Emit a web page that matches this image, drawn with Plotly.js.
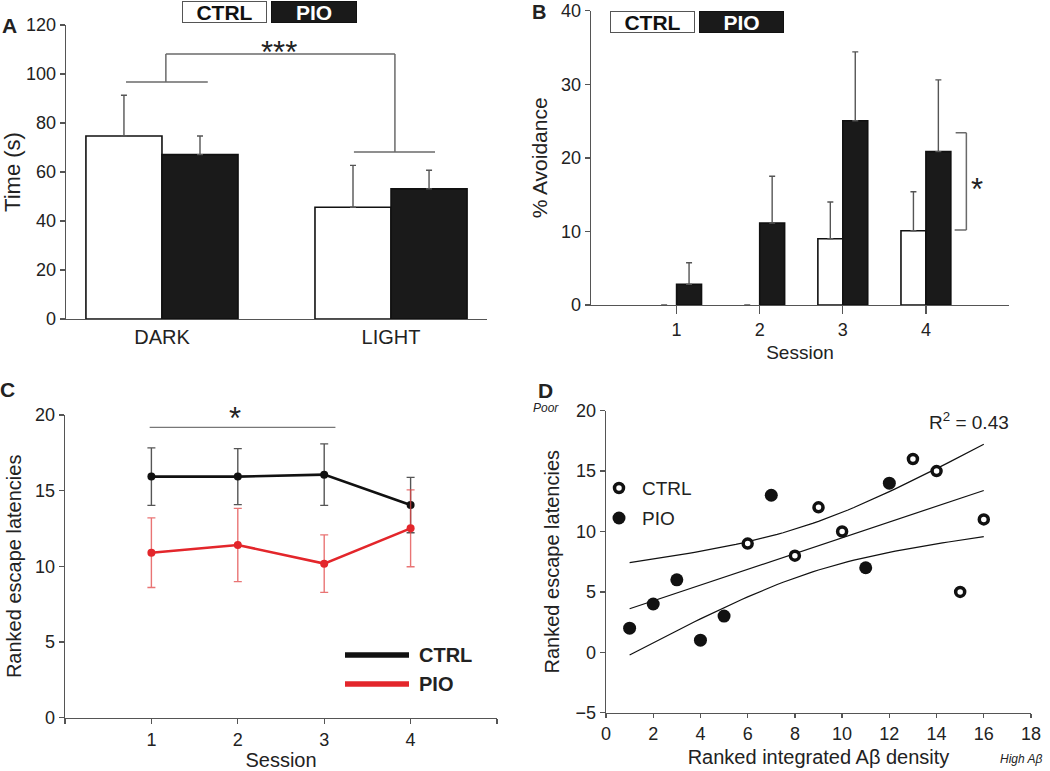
<!DOCTYPE html>
<html><head><meta charset="utf-8">
<script src="https://cdn.plot.ly/plotly-3.0.1.min.js"></script>
<style>html,body{margin:0;padding:0;background:#fff}#chart{width:1050px;height:771px}</style>
</head><body><div id="chart"></div>
<script>
// ---------- Panel A: time in dark / light ----------
const aCategories = ['DARK', 'LIGHT'];
const aCtrl = [74.7, 45.6];
const aCtrlErr = [16.6, 17.1];
const aPio = [67.1, 53.1];
const aPioErr = [7.6, 7.6];
const aYTicks = [0, 20, 40, 60, 80, 100, 120];

// ---------- Panel B: % avoidance ----------
const bSessions = [1, 2, 3, 4];
const bCtrl = [0, 0, 9.0, 10.1];
const bCtrlErr = [NaN, NaN, 5.0, 5.3];
const bPio = [2.8, 11.15, 25.05, 20.85];
const bPioErr = [2.95, 6.35, 9.35, 9.75];
const bYTicks = [0, 10, 20, 30, 40];

// ---------- Panel C: ranked escape latencies per session ----------
const cSessions = [1, 2, 3, 4];
const cCtrl = [15.93, 15.93, 16.06, 14.05];
const cCtrlErr = [1.9, 1.85, 2.03, 1.83];
const cPio = [10.9, 11.41, 10.18, 12.51];
const cPioErr = [2.3, 2.42, 1.9, 2.54];
const cYTicks = [0, 5, 10, 15, 20];

// ---------- Panel D: ranked latencies vs ranked Abeta density ----------
const dCtrlX = [6, 8, 9, 10, 13, 14, 15, 16];
const dCtrlY = [9, 8, 12, 10, 16, 15, 5, 11];
const dPioX = [1, 2, 3, 4, 5, 7, 11, 12];
const dPioY = [2, 4, 6, 1, 3, 13, 7, 14];
const dXTicks = [0, 2, 4, 6, 8, 10, 12, 14, 16, 18];
const dYTicks = [-5, 0, 5, 10, 15, 20];

// ---------- linear fit with 95% confidence band (from the points) ----------
const allX = dCtrlX.concat(dPioX), allY = dCtrlY.concat(dPioY);
const n = allX.length;
const mx = allX.reduce((a, b) => a + b, 0) / n;
const my = allY.reduce((a, b) => a + b, 0) / n;
let sxx = 0, sxy = 0, syy = 0;
for (let i = 0; i < n; i++) { sxx += (allX[i]-mx)**2; sxy += (allX[i]-mx)*(allY[i]-my); syy += (allY[i]-my)**2; }
const slope = sxy / sxx, icpt = my - slope * mx;
const sRes = Math.sqrt((syy - sxy * sxy / sxx) / (n - 2));
const tCrit = 2.145;
const xMin = Math.min(...allX), xMax = Math.max(...allX);
const fitX = [], fitY = [], upY = [], loY = [];
for (let x = xMin; x <= xMax + 1e-9; x += 0.25) {
  const yh = icpt + slope * x;
  const h = tCrit * sRes * Math.sqrt(1 / n + (x - mx) ** 2 / sxx);
  fitX.push(x); fitY.push(yh); upY.push(yh + h); loY.push(yh - h);
}

// ---------- helpers / styles ----------
const W = 1050, H = 771;
const P = x => x / W, Q = y => 1 - y / H;
const FONT = 'Liberation Sans, Arial, Helvetica, sans-serif';
const AX = '#555';
const TXT = '#222';
const RED = '#e3262b';
const TICKSIZE = 18;

function yAxis(domain, range, ticks, title, tsize, standoff, anchor) {
  return {
    domain: domain, range: range, tickvals: ticks, anchor: anchor,
    showline: true, linecolor: AX, linewidth: 1.3, ticks: 'outside', ticklen: 5,
    tickcolor: AX, tickwidth: 1.3, showgrid: false, zeroline: false,
    tickfont: {family: FONT, size: TICKSIZE, color: TXT},
    title: {text: title, font: {family: FONT, size: tsize, color: TXT}, standoff: standoff},
    fixedrange: true
  };
}

const traces = [
  // A
  {type: 'bar', x: aCategories, y: aCtrl, xaxis: 'x', yaxis: 'y', width: 0.332, offset: -0.332,
   marker: {color: '#fff', line: {color: '#111', width: 1.6}},
   error_y: {type: 'data', array: aCtrlErr, arrayminus: aCtrl.map(() => 0), color: AX, thickness: 1.4, width: 3},
   showlegend: false, name: 'CTRL'},
  {type: 'bar', x: aCategories, y: aPio, xaxis: 'x', yaxis: 'y', width: 0.332, offset: 0,
   marker: {color: '#1a1a1a', line: {color: '#111', width: 1.6}},
   error_y: {type: 'data', array: aPioErr, arrayminus: aPio.map(() => 0), color: AX, thickness: 1.4, width: 3},
   showlegend: false, name: 'PIO'},
  // B
  {type: 'bar', x: bSessions, y: bCtrl, xaxis: 'x2', yaxis: 'y2', width: 0.3, offset: -0.3,
   marker: {color: '#fff', line: {color: '#111', width: bCtrl.map(v => v > 0 ? 1.6 : 0)}},
   error_y: {type: 'data', array: bCtrlErr, arrayminus: bCtrl.map(() => 0), color: AX, thickness: 1.4, width: 3},
   showlegend: false, name: 'CTRL'},
  {type: 'bar', x: bSessions, y: bPio, xaxis: 'x2', yaxis: 'y2', width: 0.3, offset: 0,
   marker: {color: '#1a1a1a', line: {color: '#111', width: 1.6}},
   error_y: {type: 'data', array: bPioErr, arrayminus: bPio.map(() => 0), color: AX, thickness: 1.4, width: 3},
   showlegend: false, name: 'PIO'},
  // C
  {type: 'scatter', mode: 'lines+markers', x: cSessions, y: cCtrl, xaxis: 'x3', yaxis: 'y3',
   line: {color: '#111', width: 2.6}, marker: {color: '#111', size: 8},
   error_y: {type: 'data', array: cCtrlErr, color: '#555', thickness: 1.4, width: 4},
   showlegend: false, name: 'CTRL'},
  {type: 'scatter', mode: 'lines+markers', x: cSessions, y: cPio, xaxis: 'x3', yaxis: 'y3',
   line: {color: RED, width: 2.6}, marker: {color: RED, size: 8},
   error_y: {type: 'data', array: cPioErr, color: 'rgba(225,70,70,0.75)', thickness: 1.4, width: 4},
   showlegend: false, name: 'PIO'},
  // D fit + bands
  {type: 'scatter', mode: 'lines', x: fitX, y: upY, xaxis: 'x4', yaxis: 'y4', line: {color: '#111', width: 1.2}, showlegend: false, hoverinfo: 'skip'},
  {type: 'scatter', mode: 'lines', x: fitX, y: fitY, xaxis: 'x4', yaxis: 'y4', line: {color: '#111', width: 1.2}, showlegend: false, hoverinfo: 'skip'},
  {type: 'scatter', mode: 'lines', x: fitX, y: loY, xaxis: 'x4', yaxis: 'y4', line: {color: '#111', width: 1.2}, showlegend: false, hoverinfo: 'skip'},
  // D points
  {type: 'scatter', mode: 'markers', x: dPioX, y: dPioY, xaxis: 'x4', yaxis: 'y4',
   marker: {color: '#111', size: 13}, showlegend: false, name: 'PIO'},
  {type: 'scatter', mode: 'markers', x: dCtrlX, y: dCtrlY, xaxis: 'x4', yaxis: 'y4',
   marker: {color: '#fff', size: 9, line: {color: '#111', width: 3.5}}, showlegend: false, name: 'CTRL'}
];

const gray = {color: '#6a6a6a', width: 1.5};
function seg(xr, yr, x0, y0, x1, y1, line) {
  return {type: 'line', xref: xr, yref: yr, x0: x0, y0: y0, x1: x1, y1: y1, line: line || gray, layer: 'above'};
}

const shapes = [
  // A bracket
  seg('x', 'y', -0.157, 96.7, 0.2, 96.7),
  seg('x', 'y', 0.017, 96.7, 0.017, 108.2),
  seg('x', 'y', 0.017, 108.2, 1.017, 108.2),
  seg('x', 'y', 1.017, 108.2, 1.017, 68.2),
  seg('x', 'y', 0.838, 68.2, 1.192, 68.2),
  // B bracket
  seg('x2', 'y2', 4.346, 10.2, 4.487, 10.2),
  seg('x2', 'y2', 4.487, 10.2, 4.487, 23.4),
  seg('x2', 'y2', 4.487, 23.4, 4.358, 23.4),
  // C bracket
  seg('x3', 'y3', 0.98, 19.18, 3.13, 19.18, {color: '#777', width: 1.2}),
  // C legend lines
  seg('paper', 'paper', P(345), Q(655), P(409), Q(655), {color: '#111', width: 5.5}),
  seg('paper', 'paper', P(345), Q(684), P(409), Q(684), {color: RED, width: 5.5}),
  // D legend markers
  {type: 'circle', xref: 'paper', yref: 'paper', xsizemode: 'pixel', ysizemode: 'pixel',
   xanchor: P(619), yanchor: Q(488), x0: -4.5, x1: 4.5, y0: -4.5, y1: 4.5,
   fillcolor: '#fff', line: {color: '#111', width: 3.5}},
  {type: 'circle', xref: 'paper', yref: 'paper', xsizemode: 'pixel', ysizemode: 'pixel',
   xanchor: P(619), yanchor: Q(518), x0: -6.5, x1: 6.5, y0: -6.5, y1: 6.5,
   fillcolor: '#111', line: {color: '#111', width: 0}}
];

function txt(text, x, y, size, opts) {
  return Object.assign({xref: 'paper', yref: 'paper', x: P(x), y: Q(y), text: text, showarrow: false,
    xanchor: 'center', yanchor: 'middle', font: {family: FONT, size: size, color: TXT}}, opts || {});
}
function box(text, x0, x1, y0, y1, dark) {
  return {xref: 'paper', yref: 'paper', x: P((x0 + x1) / 2), y: Q((y0 + y1) / 2), text: '<b>' + text + '</b>',
    showarrow: false, xanchor: 'center', yanchor: 'middle', width: x1 - x0 - 2, height: y1 - y0 - 2,
    borderpad: 0, borderwidth: 1, bordercolor: dark ? '#111' : '#555', bgcolor: dark ? '#1a1a1a' : '#fff',
    font: {family: FONT, size: 21, color: dark ? '#fff' : '#111'}};
}

const annotations = [
  // panel letters
  txt('<b>A</b>', 9, 26, 21),
  txt('<b>B</b>', 539, 0, 20, {yanchor: 'top', borderpad: 0}),
  txt('<b>C</b>', 7, 389, 21),
  txt('<b>D</b>', 545, 390, 21),
  // legend boxes
  box('CTRL', 182, 267, 1, 23, false),
  box('PIO', 271, 357, 1, 23, true),
  box('CTRL', 610, 695, 11, 33, false),
  box('PIO', 699, 784, 11, 33, true),
  // stars
  txt('***', 279, 53, 31),
  txt('*', 977, 189, 31),
  txt('*', 235, 419, 31),
  // C legend
  txt('<b>CTRL</b>', 417, 655, 20, {xanchor: 'left'}),
  txt('<b>PIO</b>', 417, 684, 20, {xanchor: 'left'}),
  // D legend
  txt('CTRL', 640, 488, 19, {xanchor: 'left'}),
  txt('PIO', 640, 518, 19, {xanchor: 'left'}),
  // D extras
  txt('R<sup>2</sup> = 0.43', 969, 421, 19),
  txt('<i>Poor</i>', 546, 408, 12),
  txt('<i>High A\u03b2</i>', 1021, 759, 12)
];

const layout = {
  width: W, height: H, margin: {l: 0, r: 0, t: 0, b: 0}, paper_bgcolor: '#fff', plot_bgcolor: 'rgba(0,0,0,0)',
  barmode: 'overlay', showlegend: false, font: {family: FONT, color: TXT},
  // A
  xaxis: {domain: [P(66), P(487)], anchor: 'y', type: 'category', range: [-0.419, 1.419],
    showline: true, linecolor: AX, linewidth: 1.3, ticks: '', showgrid: false, zeroline: false,
    tickfont: {family: FONT, size: 20, color: TXT}, fixedrange: true},
  yaxis: yAxis([Q(319), Q(25)], [0, 120], aYTicks, 'Time (s)', 22, 2, 'x'),
  // B
  xaxis2: {domain: [P(591), P(1009)], anchor: 'y2', range: [-0.03, 5], tickvals: bSessions,
    showline: true, linecolor: AX, linewidth: 1.3, ticks: 'outside', ticklen: 8, tickcolor: AX, tickwidth: 1.3,
    showgrid: false, zeroline: false, tickfont: {family: FONT, size: TICKSIZE, color: TXT},
    title: {text: 'Session', font: {family: FONT, size: 19, color: TXT}, standoff: 6}, fixedrange: true},
  yaxis2: yAxis([Q(305), Q(10.7)], [0, 40], bYTicks, '% Avoidance', 21, 7, 'x2'),
  // C
  xaxis3: {domain: [P(65), P(497)], anchor: 'y3', range: [0, 5], tickvals: cSessions,
    showline: true, linecolor: AX, linewidth: 1.3, ticks: 'outside', ticklen: 5, tickcolor: AX, tickwidth: 1.3,
    minor: {tickvals: [0, 5], ticks: 'outside', ticklen: 5, tickcolor: AX, tickwidth: 1.3, showgrid: false},
    showgrid: false, zeroline: false, tickfont: {family: FONT, size: TICKSIZE, color: TXT},
    title: {text: 'Session', font: {family: FONT, size: 20, color: TXT}, standoff: 8}, fixedrange: true},
  yaxis3: yAxis([Q(717.7), Q(415)], [0, 20], cYTicks, 'Ranked escape latencies', 20, 8, 'x3'),
  // D
  xaxis4: {domain: [P(606), P(1031)], anchor: 'y4', range: [0, 18], tickvals: dXTicks,
    showline: true, linecolor: AX, linewidth: 1.3, ticks: 'outside', ticklen: 4, tickcolor: AX, tickwidth: 1.3,
    showgrid: false, zeroline: false, tickfont: {family: FONT, size: TICKSIZE, color: TXT},
    title: {text: 'Ranked integrated A\u03b2 density', font: {family: FONT, size: 20, color: TXT}, standoff: 7}, fixedrange: true},
  yaxis4: yAxis([Q(712.7), Q(410.7)], [-5, 20], dYTicks, 'Ranked escape latencies', 20, 10, 'x4'),
  shapes: shapes,
  annotations: annotations
};

Plotly.newPlot('chart', traces, layout, {displayModeBar: false, staticPlot: true});
</script>
</body></html>
